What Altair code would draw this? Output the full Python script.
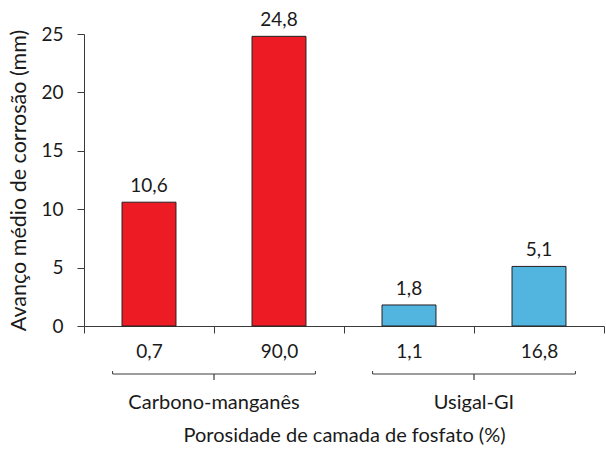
import altair as alt
import pandas as pd

# Porosity of the phosphate layer (category labels) and mean corrosion advance (mm)
categorias = ["0,7", "90,0", "1,1", "16,8"]
grupos = ["Carbono-manganês", "Carbono-manganês", "Usigal-GI", "Usigal-GI"]
avanco = [10.6, 24.8, 1.8, 5.1]

# Steel groups shown by the brackets under the axis
grupo_nomes = ["Carbono-manganês", "Usigal-GI"]
grupo_inicio = ["0,7", "1,1"]
grupo_fim = ["90,0", "16,8"]
cores = ["#ED1C24", "#52B5E0"]

FONT = "Lato"
TXT = "#1a1a1a"
AXC = "#3a3a3a"
W, H = 520, 292
FS = 19

df = pd.DataFrame({"categoria": categorias, "grupo": grupos, "avanco": avanco})
chaves = pd.DataFrame({"grupo": grupo_nomes, "inicio": grupo_inicio, "fim": grupo_fim})

x_scale = alt.Scale(domain=categorias, paddingInner=0, paddingOuter=0)
y_scale = alt.Scale(domain=[0, 25], nice=False)

x_axis = alt.Axis(
    title="Porosidade de camada de fosfato (%)",
    labelAngle=0,
    tickBand="extent",
    tickSize=7,
    labelPadding=24,
    labelBaseline="alphabetic",
    titleBaseline="alphabetic",
    titleFontSize=20,
    titleY=115,
)
y_axis = alt.Axis(
    title="Avanço médio de corrosão (mm)",
    values=[0, 5, 10, 15, 20, 25],
    grid=False,
    tickSize=7,
    labelPadding=14,
    titleBaseline="alphabetic",
    titleFontSize=21.5,
    titleAngle=270,
    titleX=-59,
    titleY=H / 2,
)


def xcat(field, band=0.5):
    return alt.X(f"{field}:N", scale=x_scale, sort=categorias, axis=x_axis, bandPosition=band)


base = alt.Chart(df)

barras = base.mark_bar(
    width=alt.RelativeBandSize(0.415), stroke="#231F20", strokeWidth=1
).encode(
    x=xcat("categoria"),
    y=alt.Y("avanco:Q", scale=y_scale, axis=y_axis),
    color=alt.Color("grupo:N", scale=alt.Scale(domain=grupo_nomes, range=cores), legend=None),
)

rotulos = base.transform_calculate(
    rotulo="replace(format(datum.avanco, '.1f'), '.', ',')"
).mark_text(font=FONT, fontSize=FS, baseline="alphabetic", dy=-10, color=TXT).encode(
    x=xcat("categoria"),
    y=alt.Y("avanco:Q", scale=y_scale, axis=y_axis),
    text="rotulo:N",
)

chave = alt.Chart(chaves)
BY = H + 48

linha = chave.mark_rule(color=AXC, strokeWidth=1).encode(
    x=xcat("inicio", 0.22),
    x2=alt.X2("fim:N", bandPosition=0.78),
    y=alt.value(BY),
)
ponta_esq = chave.mark_rule(color=AXC, strokeWidth=1).encode(
    x=xcat("inicio", 0.22),
    y=alt.value(BY - 3),
    y2=alt.value(BY),
)
ponta_dir = chave.mark_rule(color=AXC, strokeWidth=1).encode(
    x=xcat("fim", 0.78),
    y=alt.value(BY - 3),
    y2=alt.value(BY),
)
centro = chave.mark_rule(color=AXC, strokeWidth=1.2).encode(
    x=xcat("fim", 0.0001),
    y=alt.value(BY),
    y2=alt.value(BY + 6),
)
nomes = chave.mark_text(font=FONT, fontSize=20, baseline="alphabetic", color=TXT).encode(
    x=xcat("fim", 0.0001),
    y=alt.value(H + 83),
    text="grupo:N",
)

chart = alt.layer(barras, rotulos, linha, ponta_esq, ponta_dir, centro, nomes).properties(
    width=W,
    height=H,
    autosize=alt.AutoSizeParams(type="none"),
    padding={"left": 84, "top": 34, "right": 2, "bottom": 124},
).configure(
    font=FONT,
).configure_view(
    stroke=None,
).configure_axis(
    domainColor=AXC,
    tickColor=AXC,
    labelColor=TXT,
    titleColor=TXT,
    labelFont=FONT,
    titleFont=FONT,
    labelFontSize=FS,
    titleFontSize=FS,
    titleFontWeight="normal",
)

chart.save("out.html", embed_options={"renderer": "svg", "actions": False})
